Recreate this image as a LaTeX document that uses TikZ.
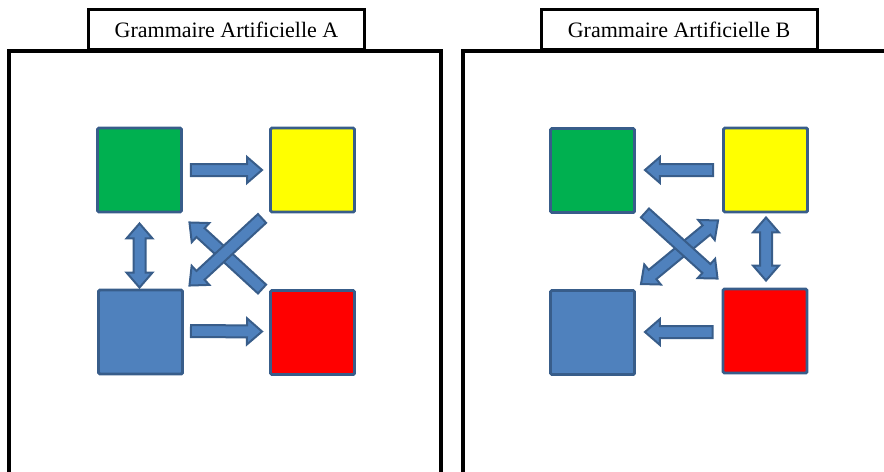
\documentclass[tikz,border=0pt]{standalone}
\usepackage{fontspec}
\setmainfont{Liberation Serif}
\usetikzlibrary{calc}

\definecolor{vertbox}{RGB}{0,176,80}
\definecolor{jaunebox}{RGB}{255,255,0}
\definecolor{rougebox}{RGB}{255,0,0}
\definecolor{bleubox}{RGB}{79,129,189}
\definecolor{bordbleu}{RGB}{56,93,138}

\tikzset{every picture/.style={line width=0.75pt}}
\tikzset{
  carre/.style={draw=bordbleu, line width=2.2pt, minimum size=63pt, inner sep=0pt, rounded corners=1pt},
  titre/.style={draw, line width=2.25pt, fill=white, minimum width=207pt, minimum height=30pt, inner sep=0pt, font=\fontsize{16.5}{20}\selectfont},
  cadre/.style={line width=2.4pt},
  bloc/.style={draw=bordbleu, fill=bleubox, line width=1.5pt}
}

% block arrow, head at #2
\newcommand{\fleche}[2]{%
  \path (#1) coordinate (fA) (#2) coordinate (fB);
  \path ($(fB)!11.25pt!(fA)$) coordinate (fH);
  \filldraw[bloc] ($(fA)!4.5pt!90:(fB)$) -- ($(fH)!4.5pt!90:(fB)$) -- ($(fH)!9.75pt!90:(fB)$) -- (fB)
    -- ($(fH)!9.75pt!-90:(fB)$) -- ($(fH)!4.5pt!-90:(fB)$) -- ($(fA)!4.5pt!-90:(fB)$) -- cycle;
}
% block arrow, heads at both ends
\newcommand{\doublefleche}[2]{%
  \path (#1) coordinate (fA) (#2) coordinate (fB);
  \path ($(fB)!11.25pt!(fA)$) coordinate (fH) ($(fA)!11.25pt!(fB)$) coordinate (fG);
  \filldraw[bloc] (fA) -- ($(fG)!9.75pt!90:(fB)$) -- ($(fG)!4.5pt!90:(fB)$) -- ($(fH)!4.5pt!90:(fB)$) -- ($(fH)!9.75pt!90:(fB)$) -- (fB)
    -- ($(fH)!9.75pt!-90:(fB)$) -- ($(fH)!4.5pt!-90:(fB)$) -- ($(fG)!4.5pt!-90:(fB)$) -- ($(fG)!9.75pt!-90:(fB)$) -- cycle;
}

\begin{document}
\begin{tikzpicture}[x=0.75pt,y=0.75pt,yscale=-1,xscale=1]
\useasboundingbox (0,0) rectangle (884,471);

%Frames
\draw[cadre] (9,480) -- (9,51) -- (441,51) -- (441,480) ;
\draw[cadre] (463,480) -- (463,51) -- (900,51) ;

%Titles
\node[titre] (titreA) at (226.5,29.5) {Grammaire Artificielle A};
\node[titre] (titreB) at (679,29.5) {Grammaire Artificielle B};

%Squares A
\node[carre, fill=vertbox] (vertA) at (139.5,170) {};
\node[carre, fill=jaunebox] (jauneA) at (312.5,170) {};
\node[carre, fill=bleubox] (bleuA) at (140.5,332) {};
\node[carre, fill=rougebox] (rougeA) at (312.5,332.5) {};

%Squares B
\node[carre, fill=vertbox] (vertB) at (592.5,170.5) {};
\node[carre, fill=jaunebox] (jauneB) at (765.5,170) {};
\node[carre, fill=bleubox] (bleuB) at (592.5,332.5) {};
\node[carre, fill=rougebox] (rougeB) at (765,331) {};

%Arrows A
\fleche{$(vertA.east)+(8,0)$}{$(jauneA.west)+(-7,0)$}
\fleche{$(bleuA.east)+(7,-1)$}{$(rougeA.west)+(-7,-1)$}
\doublefleche{$(vertA.south)+(0,10)$}{$(bleuA.north)+(-1,-1)$}
\fleche{$(rougeA.north west)+(-7,0)$}{$(vertA.south east)+(6.5,9)$}
\fleche{$(jauneA.south west)+(-7,5)$}{$(bleuA.north east)+(5.5,-3)$}

%Arrows B
\fleche{$(jauneB.west)+(-9,0)$}{$(vertB.east)+(9,-0.5)$}
\fleche{$(rougeB.west)+(-9,1)$}{$(bleuB.east)+(9,-0.5)$}
\doublefleche{$(jauneB.south)+(0.5,4)$}{$(rougeB.north)+(1,-7)$}
\doublefleche{$(bleuB.north east)+(5,-5)$}{$(jauneB.south west)+(-4,7)$}
\fleche{$(vertB.south east)+(9,-1)$}{$(rougeB.north west)+(-4,-9)$}
\end{tikzpicture}
\end{document}
